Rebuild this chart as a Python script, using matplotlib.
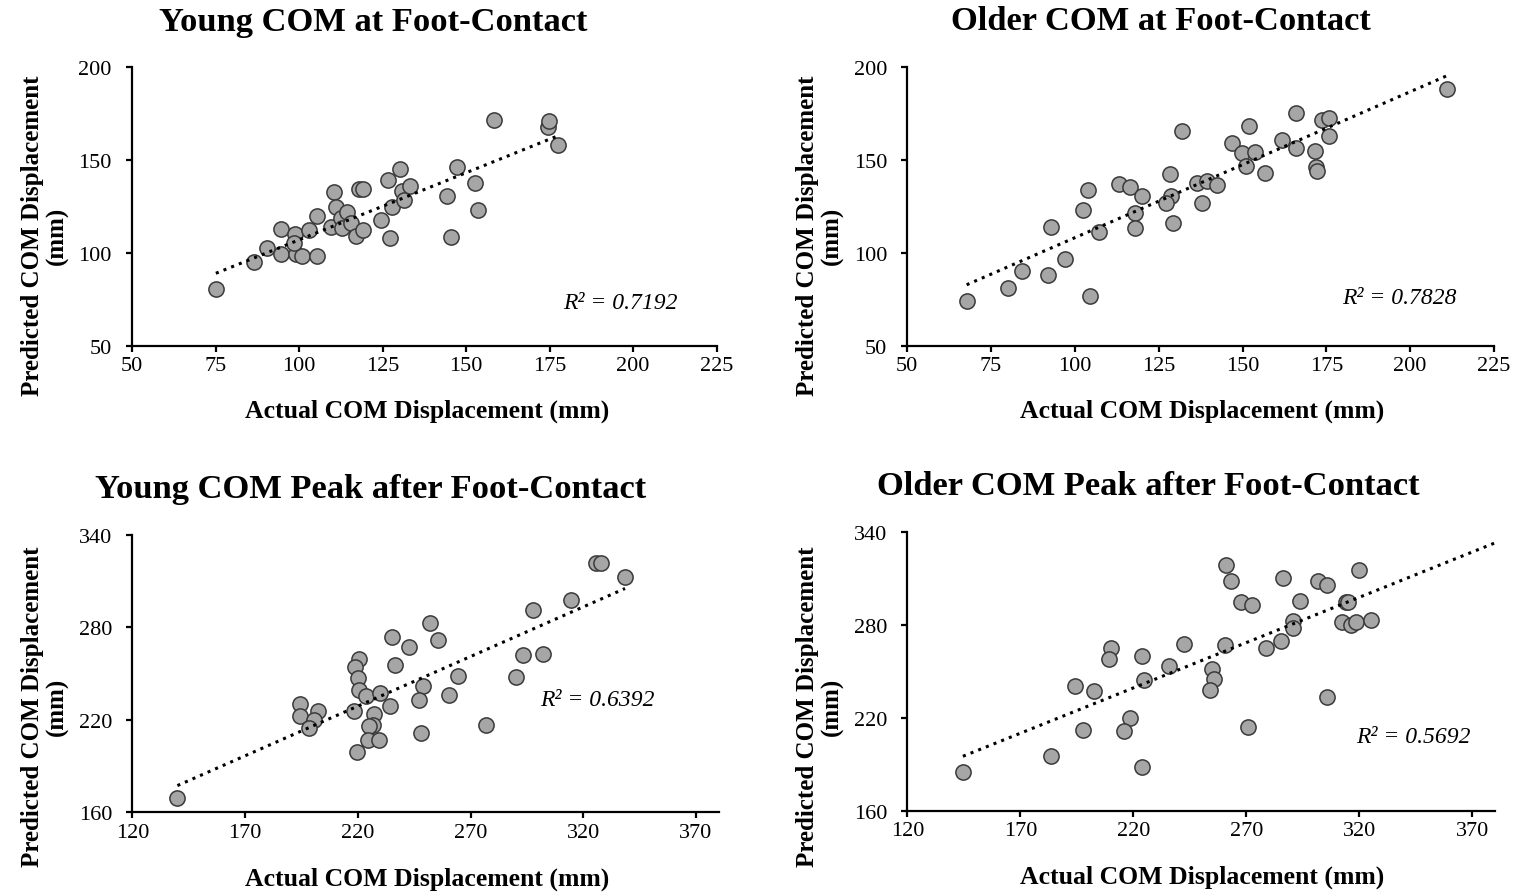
import numpy as np
import matplotlib
matplotlib.use("Agg")
import matplotlib.pyplot as plt

plt.rcParams['font.family'] = ['Liberation Serif', 'DejaVu Serif']

# ---------------- data ----------------
young_fc_x = [75.1, 86.4, 90.5, 94.7, 94.6, 98.7, 99.2, 100.9, 98.6, 102.9, 105.3, 105.3, 109.6, 110.6,
              111.1, 112.5, 112.9, 114.4, 115.5, 117.1, 118.0, 119.1, 119.1, 124.5, 126.5, 127.2, 127.9,
              130.3, 130.8, 131.3, 133.2, 147.3, 144.3, 152.7, 153.5, 145.5, 158.3, 174.5, 174.9, 177.6]
young_fc_y = [80.5, 95.0, 102.8, 112.7, 99.2, 110.2, 99.7, 98.5, 105.5, 112.3, 98.3, 120.0, 114.1, 133.0,
              124.5, 118.6, 113.2, 121.8, 116.0, 108.9, 134.2, 134.2, 112.3, 117.5, 139.3, 107.8, 124.5,
              145.2, 133.5, 128.5, 136.2, 146.3, 130.5, 137.8, 123.0, 108.4, 171.4, 168.0, 171.0, 158.0]

older_fc_x = [67.7, 79.9, 84.2, 92.0, 92.8, 97.0, 104.5, 102.5, 103.9, 107.3, 113.1, 116.3, 117.8, 117.9,
              120.1, 128.3, 128.6, 127.1, 129.4, 132.0, 136.4, 139.5, 142.5, 137.9, 146.8, 151.8, 149.8,
              151.1, 153.8, 156.6, 161.8, 166.0, 166.0, 171.7, 171.9, 172.2, 173.7, 175.9, 175.9, 211.0]
older_fc_y = [74.2, 81.2, 90.3, 88.2, 114.0, 96.6, 77.0, 123.4, 134.2, 111.3, 137.1, 135.6, 121.7, 113.4,
              130.8, 142.5, 131.0, 127.0, 116.1, 165.6, 137.8, 138.7, 136.7, 126.7, 159.5, 168.3, 153.9,
              146.8, 154.6, 143.2, 160.9, 175.3, 156.6, 155.2, 146.6, 144.4, 171.7, 172.6, 163.2, 188.3]

young_pk_x = [140.0, 194.5, 194.5, 202.2, 200.4, 198.5, 218.3, 219.8, 220.5, 218.9, 220.0, 220.5, 223.5,
              229.7, 227.3, 226.9, 224.8, 224.7, 229.5, 234.3, 235.0, 236.6, 242.8, 252.0, 255.7, 248.8,
              247.1, 248.0, 260.3, 264.3, 276.9, 290.2, 293.1, 302.0, 297.6, 314.7, 325.6, 327.8, 338.5]
young_pk_y = [169.0, 230.4, 222.5, 225.4, 220.0, 214.9, 225.4, 198.9, 259.5, 254.2, 246.8, 239.5, 235.6,
              237.5, 223.5, 216.4, 216.0, 206.7, 206.7, 228.7, 273.6, 255.2, 267.1, 283.0, 271.4, 241.9,
              232.8, 211.7, 236.0, 248.5, 216.8, 247.7, 262.3, 262.8, 291.3, 297.9, 321.5, 321.5, 312.4]

older_pk_x = [144.6, 183.7, 194.3, 202.5, 197.8, 210.3, 209.3, 223.8, 224.7, 218.7, 215.9, 224.0, 235.9,
              242.5, 260.9, 263.4, 267.8, 272.7, 260.5, 255.0, 255.8, 254.0, 270.8, 278.9, 285.2, 290.5,
              290.8, 286.2, 293.6, 301.5, 305.7, 305.7, 313.9, 314.9, 312.1, 316.4, 318.3, 319.8, 325.1]
older_pk_y = [184.7, 195.5, 240.9, 237.5, 212.3, 265.3, 258.0, 260.3, 244.4, 220.0, 211.6, 188.0, 253.6,
              267.8, 319.1, 308.7, 294.8, 293.0, 267.2, 251.7, 245.2, 238.1, 214.2, 265.1, 269.6, 282.9,
              278.0, 310.5, 295.4, 308.3, 305.8, 233.4, 294.8, 295.2, 282.2, 280.3, 282.2, 315.6, 283.5]

titles = ["Young COM at Foot-Contact", "Older COM at Foot-Contact",
          "Young COM Peak after Foot-Contact", "Older COM Peak after Foot-Contact"]
r2_labels = ["R² = 0.7192", "R² = 0.7828", "R² = 0.6392", "R² = 0.5692"]
xticks_top = [50, 75, 100, 125, 150, 175, 200, 225]
yticks_top = [50, 100, 150, 200]
xticks_bot = [120, 170, 220, 270, 320, 370]
yticks_bot = [160, 220, 280, 340]
xlabel = "Actual COM Displacement (mm)"
ylabel = "Predicted COM Displacement\n(mm)"

# ---------------- layout ----------------
W, H = 1520, 895
fig = plt.figure(figsize=(W / 100, H / 100), dpi=100)

def px_axes(l, r, t, b):
    return fig.add_axes([l / W, 1 - b / H, (r - l) / W, (b - t) / H])

panels = [
    dict(x=young_fc_x, y=young_fc_y, rect=(132, 716.7, 68, 347), xlim=(50, 225), ylim=(50, 200),
         xt=xticks_top, yt=yticks_top, extend=False,
         title_xy=(373, 22), r2_xy=(620, 304), ylab_x=45, ylab_y=236, xlab_xy=(427, 411)),
    dict(x=older_fc_x, y=older_fc_y, rect=(907.3, 1494, 68.3, 347), xlim=(50, 225), ylim=(50, 200),
         xt=xticks_top, yt=yticks_top, extend=False,
         title_xy=(1161, 22), r2_xy=(1399, 299), ylab_x=820, ylab_y=236, xlab_xy=(1202, 411)),
    dict(x=young_pk_x, y=young_pk_y, rect=(132.3, 718.6, 535.7, 813.3), xlim=(120, 380), ylim=(160, 340),
         xt=xticks_bot, yt=yticks_bot, extend=False,
         title_xy=(371, 490), r2_xy=(597, 701), ylab_x=45, ylab_y=707, xlab_xy=(427, 879)),
    dict(x=older_pk_x, y=older_pk_y, rect=(907.3, 1495, 533.3, 811.7), xlim=(120, 380), ylim=(160, 340),
         xt=xticks_bot, yt=yticks_bot, extend=True,
         title_xy=(1148, 487), r2_xy=(1413, 738), ylab_x=820, ylab_y=707, xlab_xy=(1202, 877)),
]

for p, title, r2 in zip(panels, titles, r2_labels):
    ax = px_axes(*p['rect'])
    x = np.asarray(p['x'])
    y = np.asarray(p['y'])
    # least-squares linear trendline (as Excel)
    m, c = np.polyfit(x, y, 1)
    x_end = p['xlim'][1] if p['extend'] else x.max()
    xs = np.array([x.min(), x_end])
    ax.plot(xs, m * xs + c, color='black', linewidth=2.2, linestyle=(0, (1, 1.7)), zorder=3)
    ax.scatter(x, y, s=120, facecolor='#a6a6a6', edgecolor='#3a3a3a', linewidth=1.1, zorder=2)

    ax.set_xlim(*p['xlim'])
    ax.set_ylim(*p['ylim'])
    ax.set_xticks(p['xt'])
    ax.set_yticks(p['yt'])
    for s in ['top', 'right']:
        ax.spines[s].set_visible(False)
    for s in ['left', 'bottom']:
        ax.spines[s].set_linewidth(1.6)
        ax.spines[s].set_color('black')
    ax.tick_params(direction='out', length=4.5, width=1.6, labelsize=16, colors='black')
    ax.tick_params(axis='x', pad=3)
    ax.tick_params(axis='y', pad=10)

    fig.text(p['title_xy'][0] / W, 1 - p['title_xy'][1] / H, title, ha='center', va='center',
             fontsize=24.8, fontweight='bold')
    fig.text(p['r2_xy'][0] / W, 1 - p['r2_xy'][1] / H, r2, ha='center', va='center',
             fontsize=17, fontstyle='italic')
    fig.text(p['ylab_x'] / W, 1 - p['ylab_y'] / H, ylabel, ha='center', va='center',
             rotation=90, fontsize=18, fontweight='bold', linespacing=1.05)
    fig.text(p['xlab_xy'][0] / W, 1 - p['xlab_xy'][1] / H, xlabel, ha='center', va='center',
             fontsize=18.5, fontweight='bold')

fig.savefig("out.png", dpi=100, facecolor='white')
